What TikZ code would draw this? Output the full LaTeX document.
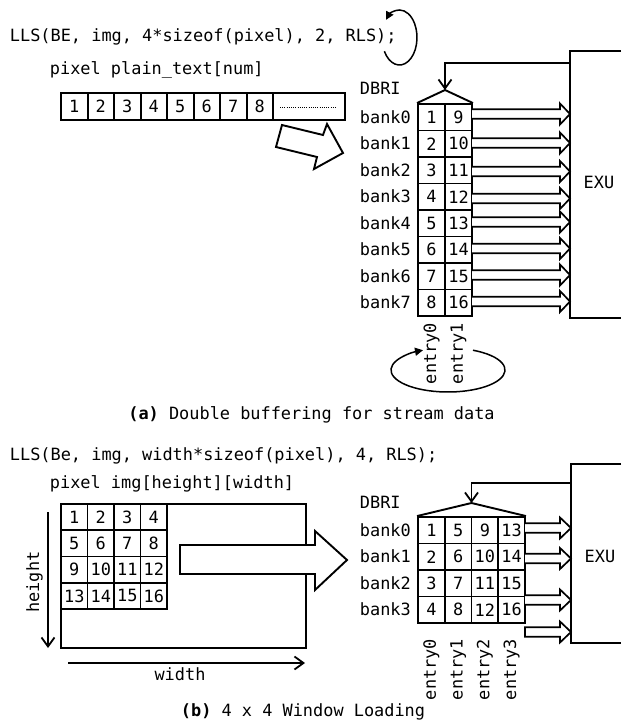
\documentclass[tikz,border=0pt]{standalone}
\usepackage{fontspec}
\newfontfamily\dmono{DejaVu Sans Mono}
\newcommand\dmfont{\dmono\fontsize{16.9}{20}\selectfont}
\usetikzlibrary{arrows.meta}
\tikzset{
  cellbox/.style={draw, line width=1.9pt, inner sep=0pt, minimum width=26.6pt, minimum height=26.5pt},
  hollow/.style={draw, line width=1.7pt, fill=white, line join=miter},
  barb/.style={-{Straight Barb[length=9pt,width=13pt]}, line width=1.8pt},
  cyc/.style={-{Triangle[length=8pt,width=8pt]}, line width=1.5pt},
}
\newcommand\hollowarr[4]{% x0, xbase, xtip, yc
  \draw[hollow] (#1,{#4-4.7}) -- (#2,{#4-4.7}) -- (#2,{#4-10.5}) -- (#3,#4) -- (#2,{#4+10.5}) -- (#2,{#4+4.7}) -- (#1,{#4+4.7});}
\begin{document}
\begin{tikzpicture}[x=1pt,y=-1pt, font=\dmfont, line width=1.9pt, every node/.style={inner sep=0pt}]
\useasboundingbox (0,0) rectangle (621,722);

%%%%%%%%%%%%%%%% (a)
\node[anchor=base west] (titleA) at (9,41.5) {LLS(BE, img, 4*sizeof(pixel), 2, RLS);};
\coordinate (cycA) at (399.5,37.5);
\draw[cyc] (cycA) ++(150:17.5 and 27.5) arc[start angle=150, end angle=-140, x radius=17.5, y radius=27.5];
\node[anchor=base west] (declA) at (49,75) {pixel plain\char95 text[num]};

\foreach \i in {1,...,8}
  \node[cellbox, minimum height=27pt] (p\i) at ({61+26.5*(\i-0.5)},106.5) {\i};
\node[draw, minimum width=72pt, minimum height=27pt] (pdots) at (309,106.5) {};
\draw[line width=1pt, dash pattern=on 1pt off 1.2pt] (280,107.5) -- (337,107.5);

\draw[fill=white, line join=miter] (282,125) -- (323,135) -- (327,124) -- (343,153) -- (314,169) -- (317,157) -- (276,147) -- cycle;

\node[anchor=base west] (dbriA) at (359,95) {DBRI};
\foreach \r in {0,...,7} {
  \pgfmathtruncatemacro\va{\r+1}
  \pgfmathtruncatemacro\vb{\r+9}
  \node[cellbox, minimum width=27pt] (ea\r) at (431.5,{104+26.5*(\r+0.5)}) {\va};
  \node[cellbox, minimum width=27pt] (eb\r) at (458.5,{104+26.5*(\r+0.5)}) {\vb};
  \node[anchor=base west] (bankA\r) at (359,{104+26.5*(\r+0.5)+6}) {bank\r};
}
\coordinate (apexA) at (445,90);
\draw (ea0.north west) -- (apexA) -- (eb0.north east);
\coordinate (fbA) at (570,63);
\draw[barb] (fbA) -| (apexA);

\draw (621,51) -- (570,51) -- (570,318) -- (621,318);
\node (exuA) at (599,182.5) {EXU};

\foreach \y in {114,143,171.5,198.5,222,248.5,275,301.5}
  \hollowarr{472}{560}{570}{\y};

\node[rotate=90, anchor=east] (entA0) at (431.5,322) {entry0};
\node[rotate=90, anchor=east] (entA1) at (458.5,322) {entry1};
\coordinate (cycB) at (448,370);
\draw[cyc] (cycB) ++(-64:57 and 22) arc[start angle=-64, end angle=244, x radius=57, y radius=22];

\node[anchor=base] (capA) at (311.5,419) {\textbf{(a)} Double buffering for stream data};

%%%%%%%%%%%%%%%% (b)
\node[anchor=base west] (titleB) at (9,460) {LLS(Be, img, width*sizeof(pixel), 4, RLS);};
\node[anchor=base west] (declB) at (49,488) {pixel img[height][width]};
\node[draw, minimum width=245pt, minimum height=144pt] (imgB) at (183.5,576) {};
\foreach \r in {0,...,3} {
  \foreach \c in {0,...,3} {
    \pgfmathtruncatemacro\vg{4*\r+\c+1}
    \node[cellbox, minimum width=26.5pt, minimum height=26.25pt] (g\r\c) at ({61+26.5*(\c+0.5)},{504+26.25*(\r+0.5)}) {\vg};
  }
}
\coordinate (hTop) at (48,512);
\coordinate (hBot) at (48,648);
\draw[barb] (hTop) -- (hBot);
\node[rotate=90] (heightB) at (34.5,582) {height};
\coordinate (wL) at (68,663);
\coordinate (wR) at (305,663);
\draw[barb] (wL) -- (wR);
\node[anchor=base] (widthB) at (180,680) {width};

\draw[fill=white, line join=miter] (180,545) -- (315,545) -- (315,531) -- (347,560) -- (315,590) -- (315,574) -- (180,574) -- cycle;

\node[anchor=base west] (dbriB) at (359,508.3) {DBRI};
\foreach \r in {0,...,3} {
  \node[anchor=base west] (bankB\r) at (359,{517+26.5*(\r+0.5)+6}) {bank\r};
  \foreach \c in {0,...,3} {
    \pgfmathtruncatemacro\vt{\r+1+4*\c}
    \node[cellbox, minimum width=26.75pt] (t\r\c) at ({418+26.75*(\c+0.5)},{517+26.5*(\r+0.5)}) {\vt};
  }
}
\coordinate (apexB) at (471.5,503);
\draw (t00.north west) -- (apexB) -- (t03.north east);
\coordinate (fbB) at (571,483);
\draw[barb] (fbB) -| (apexB);

\draw (621,464) -- (571,464) -- (571,643) -- (621,643);
\node (exuB) at (600,556) {EXU};

\foreach \y in {528,558.5,600}
  \hollowarr{525}{560}{571}{\y};
\draw[hollow] (525,627.3) -- (560,627.3) -- (560,621.5) -- (571,632) -- (560,642.5) -- (560,636.7) -- (525,636.7) -- cycle;

\foreach \c in {0,...,3}
  \node[rotate=90, anchor=east] (entB\c) at ({418+26.75*(\c+0.5)},638) {entry\c};

\node[anchor=base] (capB) at (303,716.5) {\textbf{(b)} 4 x 4 Window Loading};
\end{tikzpicture}
\end{document}
